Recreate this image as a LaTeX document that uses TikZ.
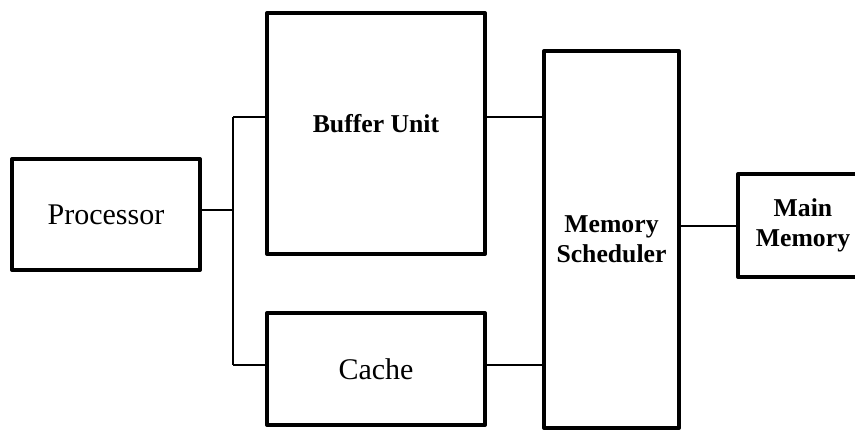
\documentclass[tikz,border=0pt]{standalone}
\usepackage{fontspec}
\setmainfont{Liberation Serif}
\usepackage{tikz}
\tikzset{
  bloque/.style={rectangle, draw=black, line width=4pt, line join=round,
    outer sep=0pt, inner sep=0pt, align=center,
    font=\fontsize{30}{36}\selectfont},
  bloquen/.style={bloque, font=\fontsize{25.7}{30}\selectfont\bfseries},
  etqn/.style={inner sep=0pt, align=center, font=\fontsize{25.7}{30}\selectfont\bfseries},
  cable/.style={line width=2pt, draw=black},
}

\begin{document}
\begin{tikzpicture}[x=1pt, y=-1pt]
  \useasboundingbox (0,0) rectangle (855,432);
  \node[bloque, minimum width=188pt, minimum height=111pt] (proc) at (106,214.5) {Processor};
  \node[bloque, minimum width=218pt, minimum height=241pt] (buf) at (376,133.5) {};
  \node[etqn] (buftxt) at (376,124) {Buffer Unit};
  \node[bloque, minimum width=218pt, minimum height=112pt] (cache) at (376,369) {Cache};
  \node[bloquen, minimum width=135pt, minimum height=377pt] (ms) at (611.5,239.5) {Memory\\Scheduler};
  \node[bloquen, minimum width=130pt, minimum height=103pt] (mm) at (803,225.5) {Main\\Memory};
  % puntos de union
  \coordinate (jp) at (233,210);
  \coordinate (jt) at (233,117);
  \coordinate (jb) at (233,365);
  \draw[cable] (proc.east |- jp) -- (jp);
  \draw[cable] (jt) -- (jb);
  \draw[cable] (jt) -- (buf.west |- jt);
  \draw[cable] (jb) -- (cache.west |- jb);
  \draw[cable] (buf.east |- jt) -- (ms.west |- jt);
  \draw[cable] (cache.east |- jb) -- (ms.west |- jb);
  \draw[cable] (ms.east |- mm.west) -- (mm.west);
\end{tikzpicture}
\end{document}
